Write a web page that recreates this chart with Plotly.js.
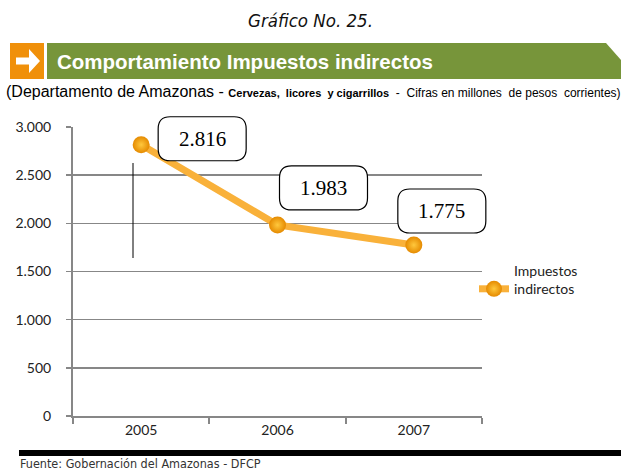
<!DOCTYPE html>
<html>
<head>
<meta charset="utf-8">
<script src="https://cdn.plot.ly/plotly-3.0.1.min.js"></script>
<style>
html,body{margin:0;padding:0;background:#fff;}
#chart{width:621px;height:470px;}
</style>
</head>
<body>
<div id="chart"></div>
<script>
// ---- data ----
const years = ['2005', '2006', '2007'];
const impuestos = [2816, 1983, 1775];
const seriesName = 'Impuestos<br>indirectos';
const yTicks = [0, 500, 1000, 1500, 2000, 2500, 3000];

// ---- layout constants (pixels) ----
const W = 621, H = 470;
const M = {l: 73, r: 139, t: 127, b: 54};
const PW = W - M.l - M.r, PH = H - M.t - M.b;
const px = x => (x - M.l) / PW;
const py = y => (H - M.b - y) / PH;
const xRange = [-0.5, 2.5];
const yRange = [0, 3000];

// label box offsets (styling, px, up positive)
const boxOff = [[61, 6], [46, 37], [28, 34]];
const BW = 88, BH = 44, R = 12;

function fmt(v) {
  return String(v).replace(/\B(?=(\d{3})+(?!\d))/g, '.');
}
function roundRect(cx, cy, w, h, r) {
  const x0 = cx - w / 2, x1 = cx + w / 2, y0 = cy - h / 2, y1 = cy + h / 2;
  return `M${x0 + r},${y0} L${x1 - r},${y0} Q${x1},${y0} ${x1},${y0 + r} ` +
         `L${x1},${y1 - r} Q${x1},${y1} ${x1 - r},${y1} L${x0 + r},${y1} ` +
         `Q${x0},${y1} ${x0},${y1 - r} L${x0},${y0 + r} Q${x0},${y0} ${x0 + r},${y0} Z`;
}

const trace = {
  x: years, y: impuestos, name: seriesName, type: 'scatter', mode: 'lines+markers',
  line: {color: '#F9B13A', width: 7},
  marker: {size: 17, color: '#E58A00', gradient: {type: 'radial', color: '#FFC83D'},
           line: {width: 0}},
  showlegend: true, hoverinfo: 'skip'
};

const shapes = [];
const annotations = [];

// data-label boxes (rounded), anchored at each point (paper refs so they are not clipped)
years.forEach((yr, i) => {
  shapes.push({
    type: 'path', xref: 'paper', yref: 'paper', xsizemode: 'pixel', ysizemode: 'pixel',
    xanchor: (i - xRange[0]) / (xRange[1] - xRange[0]),
    yanchor: (impuestos[i] - yRange[0]) / (yRange[1] - yRange[0]),
    path: roundRect(boxOff[i][0], boxOff[i][1], BW, BH, R),
    fillcolor: '#FFFFFF', line: {color: '#000000', width: 1.2}
  });
  annotations.push({
    x: i, y: impuestos[i], xref: 'x', yref: 'y', showarrow: false,
    text: fmt(impuestos[i]), xshift: boxOff[i][0], yshift: boxOff[i][1],
    font: {family: 'Liberation Serif, Times New Roman, serif', size: 21, color: '#000'}
  });
});

// stray vertical line (present in original)
shapes.push({type: 'line', xref: 'paper', yref: 'paper', x0: px(133), x1: px(133),
  y0: py(163), y1: py(258), line: {color: '#000', width: 1}});

// header: orange square + arrow
shapes.push({type: 'rect', xref: 'paper', yref: 'paper', x0: px(10), x1: px(44),
  y0: py(79), y1: py(43), fillcolor: '#F0900A', line: {width: 0}, layer: 'above'});
const arrowPts = [[16, 57.5], [29, 57.5], [29, 49], [40, 61], [29, 73], [29, 64.5], [16, 64.5]];
shapes.push({type: 'path', xref: 'paper', yref: 'paper',
  path: 'M' + arrowPts.map(p => px(p[0]) + ',' + py(p[1])).join(' L') + ' Z',
  fillcolor: '#FFFFFF', line: {width: 0}, layer: 'above'});
// green banner
const banPts = [[47, 43], [606, 43], [621, 60], [621, 79], [47, 79]];
shapes.push({type: 'path', xref: 'paper', yref: 'paper',
  path: 'M' + banPts.map(p => px(p[0]) + ',' + py(p[1])).join(' L') + ' Z',
  fillcolor: '#77953A', line: {width: 0}, layer: 'above'});
// bottom black bar
shapes.push({type: 'rect', xref: 'paper', yref: 'paper', x0: px(19), x1: px(621),
  y0: py(456), y1: py(450), fillcolor: '#000', line: {width: 0}});

const narrow = 'DejaVu Sans Condensed, Liberation Sans Narrow, Arial Narrow, sans-serif';
annotations.push({xref: 'paper', yref: 'paper', x: px(310), y: py(21), xanchor: 'center', yanchor: 'middle',
  showarrow: false, text: '<i>Gráfico No. 25.</i>',
  font: {family: narrow, size: 18.5, color: '#111'}});
annotations.push({xref: 'paper', yref: 'paper', x: px(55), y: py(61), xanchor: 'left', yanchor: 'middle',
  showarrow: false, text: '<b>Comportamiento Impuestos indirectos</b>',
  font: {family: 'Liberation Sans, Arial, sans-serif', size: 20.5, color: '#FFFFFF'}});
annotations.push({xref: 'paper', yref: 'paper', x: px(4), y: py(91), xanchor: 'left', yanchor: 'middle',
  showarrow: false,
  text: '(Departamento de Amazonas - <span style="font-size:11px"><b>Cervezas,  licores  y cigarrillos</b></span><span style="font-size:12px">  -  Cifras en millones  de pesos  corrientes)</span>',
  font: {family: 'Liberation Sans, Arial, sans-serif', size: 16, color: '#000'}});
annotations.push({xref: 'paper', yref: 'paper', x: px(18), y: py(464), xanchor: 'left', yanchor: 'middle',
  showarrow: false, text: 'Fuente: Gobernación del Amazonas - DFCP',
  font: {family: narrow, size: 12.5, color: '#333'}});

const layout = {
  width: W, height: H, margin: M,
  paper_bgcolor: '#fff', plot_bgcolor: '#fff',
  font: {family: 'Lato, Open Sans, sans-serif', size: 14, color: '#222'},
  xaxis: {
    type: 'category', range: xRange, tickson: 'boundaries',
    showgrid: false, showline: true, linecolor: '#878787', linewidth: 2,
    ticks: 'outside', ticklen: 6, tickwidth: 2, tickcolor: '#878787',
    tickfont: {family: 'Lato, sans-serif', size: 14, color: '#222'}, fixedrange: true
  },
  yaxis: {
    range: yRange, tickvals: yTicks, ticktext: yTicks.map(fmt),
    showgrid: true, gridcolor: '#878787', gridwidth: 1.5, zeroline: false,
    showline: true, linecolor: '#878787', linewidth: 2,
    ticks: 'outside', ticklen: 5, tickwidth: 1.5, tickcolor: '#878787',
    ticklabelstandoff: 12,
    tickfont: {family: 'Lato, sans-serif', size: 14, color: '#222'}, fixedrange: true
  },
  legend: {x: px(474), y: py(280), xanchor: 'left', yanchor: 'middle', itemwidth: 30,
    valign: 'bottom', bgcolor: 'rgba(0,0,0,0)',
    font: {family: 'Lato, sans-serif', size: 14, color: '#222'}},
  shapes: shapes, annotations: annotations, showlegend: true
};

Plotly.newPlot('chart', [trace], layout, {displayModeBar: false, staticPlot: true});
</script>
</body>
</html>
